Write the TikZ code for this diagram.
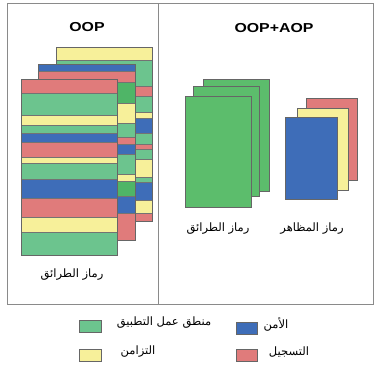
\documentclass[tikz,border=0pt]{standalone}
\usepackage{fontspec}
\setmainfont{Liberation Sans}
\newfontfamily\arabicfont[Script=Arabic]{DejaVu Sans}
\TeXXeTstate=1
\definecolor{cg}{HTML}{6CC48E}
\definecolor{cgd}{HTML}{4FB567}
\definecolor{cgs}{HTML}{5CBD6C}
\definecolor{cr}{HTML}{E07B7B}
\definecolor{cy}{HTML}{F7F09A}
\definecolor{cb}{HTML}{3E6DB8}
\definecolor{frame}{HTML}{8A8A8A}
\tikzset{
  stripe/.style={line width=0.35pt, draw=black!55},
  sheet/.style={line width=0.9pt, draw=black!60},
  arlabel/.style={font=\arabicfont\fontsize{11.5}{13}\selectfont, inner sep=0pt},
  title/.style={font=\bfseries\fontsize{13}{15}\selectfont, inner sep=0pt, xscale=1.22},
  legbox/.style={line width=0.9pt, draw=black!60}
}
\newcommand\stripesheet[5]{%
  \foreach \ya/\yb/\cc in {#5} {
    \filldraw[stripe, fill=\cc] (#1,\ya) rectangle (#2,\yb);
  }
  \draw[sheet] (#1,#3) rectangle (#2,#4);
}
\begin{document}
\begin{tikzpicture}[x=1pt,y=-1pt]
\useasboundingbox (0,0) rectangle (382,368);
\fill[white] (0,0) rectangle (382,368);
% frame
\draw[frame, line width=0.9pt] (7,3) rectangle (373,304);
\draw[frame, line width=0.9pt] (158,3) -- (158,304);
% titles
\node[title] (t1) at (87,27) {OOP};
\node[title] (t2) at (274,28) {OOP+AOP};
% left: back sheet
\stripesheet{56}{152}{47}{221}{47.3/60/cy, 60/86/cg, 86/96/cr, 96/111.7/cg, 111.7/118.3/cy, 118.3/133.3/cb, 133.3/144/cg, 144/149.3/cr, 149.3/159.3/cg, 159.3/176.7/cy, 176.7/181.7/cg, 181.7/200/cb, 200/212.7/cy, 212.7/221/cr}
% middle sheet
\stripesheet{38}{135}{64}{240}{64.3/70.7/cb, 70.7/81.7/cr, 81.7/102.7/cgd, 102.7/123.3/cy, 123.3/136.7/cg, 136.7/144/cr, 144/154/cb, 154/174/cg, 174/180.7/cy, 180.7/196/cgd, 196/213.3/cb, 213.3/240/cr}
% front sheet
\stripesheet{21}{117}{79}{255}{79.3/92.7/cr, 92.7/115/cg, 115/125/cy, 125/133.3/cg, 133.3/141.7/cb, 141.7/156.7/cr, 156.7/163.3/cy, 163.3/179.3/cg, 179.3/198.3/cb, 198.3/217.3/cr, 217.3/231.7/cy, 231.7/255/cg}
\node[arlabel] (l1) at (72,275) {\beginR رماز الطرائق\endR};
% right: method code sheets
\filldraw[sheet, fill=cgs] (203,79) rectangle (269,191);
\filldraw[sheet, fill=cgs] (193,86) rectangle (259,196);
\filldraw[sheet, fill=cgs] (185,96) rectangle (251,207);
% aspect code sheets
\filldraw[sheet, fill=cr] (306,98) rectangle (357,180);
\filldraw[sheet, fill=cy] (297,108) rectangle (348,190);
\filldraw[sheet, fill=cb] (285,117) rectangle (337,199);
\node[arlabel] (l2) at (218,229) {\beginR رماز الطرائق\endR};
\node[arlabel] (l3) at (312,229) {\beginR رماز المظاهر\endR};
% legend
\filldraw[legbox, fill=cg] (79,320) rectangle (101,332);
\node[arlabel] (g1) at (164,323) {\beginR منطق عمل التطبيق\endR};
\filldraw[legbox, fill=cb] (236,322) rectangle (257,334);
\node[arlabel] (g2) at (276,324) {\beginR الأمن\endR};
\filldraw[legbox, fill=cy] (79,349) rectangle (101,361);
\node[arlabel] (g3) at (138,352) {\beginR التزامن\endR};
\filldraw[legbox, fill=cr] (236,349) rectangle (257,361);
\node[arlabel] (g4) at (289,352) {\beginR التسجيل\endR};
\end{tikzpicture}
\end{document}
